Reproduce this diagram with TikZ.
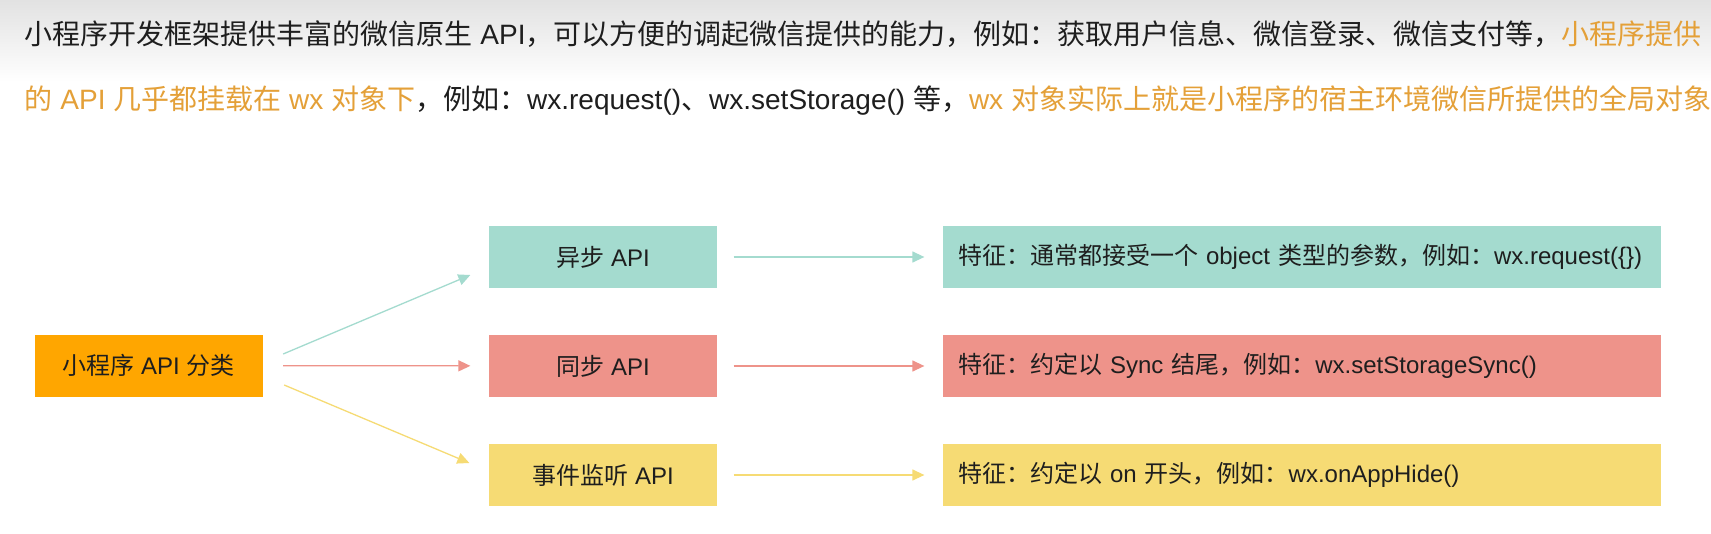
\documentclass[tikz,border=0pt]{standalone}
\usepackage{fontspec}
\setmainfont{Noto Sans CJK SC}
\newfontfamily\latinfont{Liberation Sans}
\newcommand\en[1]{{\latinfont #1}}
\usetikzlibrary{arrows.meta}
\definecolor{apiorange}{RGB}{255,166,0}
\definecolor{apiteal}{RGB}{164,219,207}
\definecolor{apired}{RGB}{238,147,138}
\definecolor{apiyellow}{RGB}{246,219,116}
\definecolor{apitext}{RGB}{228,160,56}
\definecolor{apiink}{RGB}{30,30,30}
\begin{document}
\begin{tikzpicture}[x=0.5pt, y=-0.5pt, line width=0.65pt, font=\fontsize{12pt}{14pt}\selectfont, text=apiink,
  box/.style={inner sep=0pt, minimum width=114pt, minimum height=31pt},
  featbox/.style={inner xsep=7.5pt, inner ysep=0pt, text width=344pt, align=left, minimum height=31pt},
  intro/.style={anchor=west, inner sep=0pt, font=\fontsize{14pt}{16pt}\selectfont},
  conn/.style={-{Triangle[length=6pt, width=5.5pt]}}]
  \fill[white] (0,0) rectangle (1711,534);
  \useasboundingbox (0,0) rectangle (1711,534);
  \shade[top color={rgb,255:red,226;green,226;blue,226}, bottom color=white] (0,0) rectangle (1711,82);
  % intro text
  \node[intro] (intro1) at (24,34) {小程序开发框架提供丰富的微信原生\en{ API}，可以方便的调起微信提供的能力，例如：获取用户信息、微信登录、微信支付等，\textcolor{apitext}{小程序提供}};
  \node[intro] (intro2) at (24,100) {\textcolor{apitext}{的\en{ API }几乎都挂载在\en{ wx }对象下}，例如：\en{wx.request()}、\en{wx.setStorage() }等，\textcolor{apitext}{\en{wx }对象实际上就是小程序的宿主环境微信所提供的全局对象}};
  % boxes
  \node[box, fill=apiorange] (root) at (148.5,365.5) {小程序\en{ API }分类};
  \node[box, fill=apiteal] (async) at (603,257) {异步\en{ API}};
  \node[box, fill=apired] (sync) at (603,366) {同步\en{ API}};
  \node[box, fill=apiyellow] (event) at (603,475) {事件监听\en{ API}};
  \node[featbox, fill=apiteal] (asyncfeat) at (1302,257) {\mbox{特征：通常都接受一个\en{ object }类型的参数，例如：\en{wx.request(\{\})}}};
  \node[featbox, fill=apired] (syncfeat) at (1302,366) {\mbox{特征：约定以\en{ Sync }结尾，例如：\en{wx.setStorageSync()}}};
  \node[featbox, fill=apiyellow] (eventfeat) at (1302,475) {\mbox{特征：约定以\en{ on }开头，例如：\en{wx.onAppHide()}}};
  % connectors
  \draw[conn, apiteal] ([shift={(10pt,5.75pt)}]root.east) -- ([shift={(-9pt,-9pt)}]async.west);
  \draw[conn, apired, shorten <=10pt, shorten >=9pt] (root) -- (sync);
  \draw[conn, apiyellow] ([shift={(10.5pt,-9.75pt)}]root.east) -- ([shift={(-9.5pt,6pt)}]event.west);
  \draw[conn, apiteal, shorten <=8pt, shorten >=9pt] (async) -- (asyncfeat);
  \draw[conn, apired, shorten <=8pt, shorten >=9pt] (sync) -- (syncfeat);
  \draw[conn, apiyellow, shorten <=8pt, shorten >=9pt] (event) -- (eventfeat);
\end{tikzpicture}
\end{document}
